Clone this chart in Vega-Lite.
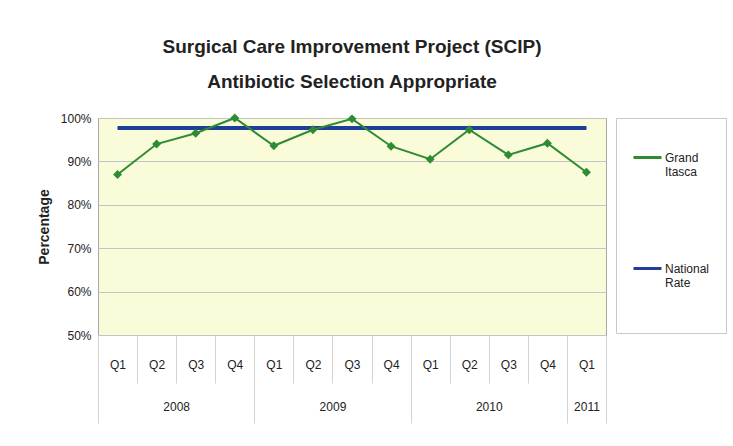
{
  "$schema": "https://vega.github.io/schema/vega-lite/v6.json",
  "width": 508,
  "height": 217,
  "padding": {"left": 37, "top": 38, "right": 5, "bottom": 5},
  "background": "white",
  "title": {
    "text": ["Surgical Care Improvement Project (SCIP)", "Antibiotic Selection Appropriate"],
    "font": "Liberation Sans",
    "fontSize": 19,
    "fontWeight": "bold",
    "color": "#222222",
    "anchor": "middle",
    "lineHeight": 35,
    "offset": 20
  },
  "config": {
    "view": {"fill": "#FAFCD9", "stroke": "#a8a8a8"},
    "axis": {"labelFont": "Liberation Sans", "labelFontSize": 12, "labelColor": "#222222"}
  },
  "datasets": {
    "grand": [
      {"period": "2008 Q1", "series": "Grand Itasca", "value": 0.87},
      {"period": "2008 Q2", "series": "Grand Itasca", "value": 0.94},
      {"period": "2008 Q3", "series": "Grand Itasca", "value": 0.965},
      {"period": "2008 Q4", "series": "Grand Itasca", "value": 1.0},
      {"period": "2009 Q1", "series": "Grand Itasca", "value": 0.936},
      {"period": "2009 Q2", "series": "Grand Itasca", "value": 0.973},
      {"period": "2009 Q3", "series": "Grand Itasca", "value": 0.998},
      {"period": "2009 Q4", "series": "Grand Itasca", "value": 0.935},
      {"period": "2010 Q1", "series": "Grand Itasca", "value": 0.905},
      {"period": "2010 Q2", "series": "Grand Itasca", "value": 0.973},
      {"period": "2010 Q3", "series": "Grand Itasca", "value": 0.915},
      {"period": "2010 Q4", "series": "Grand Itasca", "value": 0.942},
      {"period": "2011 Q1", "series": "Grand Itasca", "value": 0.875}
    ],
    "national": [
      {"period": "2008 Q1", "series": "National Rate", "value": 0.977},
      {"period": "2008 Q2", "series": "National Rate", "value": 0.977},
      {"period": "2008 Q3", "series": "National Rate", "value": 0.977},
      {"period": "2008 Q4", "series": "National Rate", "value": 0.977},
      {"period": "2009 Q1", "series": "National Rate", "value": 0.977},
      {"period": "2009 Q2", "series": "National Rate", "value": 0.977},
      {"period": "2009 Q3", "series": "National Rate", "value": 0.977},
      {"period": "2009 Q4", "series": "National Rate", "value": 0.977},
      {"period": "2010 Q1", "series": "National Rate", "value": 0.977},
      {"period": "2010 Q2", "series": "National Rate", "value": 0.977},
      {"period": "2010 Q3", "series": "National Rate", "value": 0.977},
      {"period": "2010 Q4", "series": "National Rate", "value": 0.977},
      {"period": "2011 Q1", "series": "National Rate", "value": 0.977}
    ]
  },
  "layer": [
    {
      "layer": [
        {
          "data": {"name": "national"},
          "mark": {"type": "line", "strokeWidth": 4},
          "encoding": {
            "x": {"field": "period", "type": "ordinal", "sort": null},
            "y": {"field": "value", "type": "quantitative"},
            "color": {"field": "series", "type": "nominal"}
          }
        },
        {
          "data": {"name": "grand"},
          "mark": {"type": "line", "strokeWidth": 2, "point": {"shape": "diamond", "size": 80, "filled": true, "opacity": 1}},
          "encoding": {
            "x": {
              "field": "period", "type": "ordinal", "sort": null,
              "axis": {
                "orient": "bottom",
                "title": null,
                "labelExpr": "split(datum.value, ' ')[1]",
                "ticks": false,
                "domain": false,
                "labelAngle": 0,
                "labelAlign": "center",
                "labelBaseline": "top",
                "labelPadding": 24
              }
            },
            "y": {
              "field": "value", "type": "quantitative",
              "scale": {"domain": [0.5, 1.0], "nice": false, "zero": false},
              "axis": {
                "title": "Percentage",
                "titleFont": "Liberation Sans",
                "titleFontSize": 14,
                "titleFontWeight": "bold",
                "titleColor": "#222222",
                "titlePadding": 9,
                "values": [0.5, 0.6, 0.7, 0.8, 0.9, 1.0],
                "format": ".0%",
                "ticks": false,
                "domain": false,
                "labelPadding": 7,
                "gridColor": "#c4c4c4",
                "gridWidth": 1
              }
            },
            "color": {
              "field": "series", "type": "nominal",
              "scale": {"domain": ["Grand Itasca", "National Rate"], "range": ["#2E8B34", "#1D3F98"]},
              "legend": {
                "title": " ",
                "titleFontSize": 8,
                "titlePadding": 0,
                "orient": "right",
                "offset": 10,
                "padding": 16,
                "strokeColor": "#c8c8c8",
                "symbolType": "stroke",
                "symbolSize": 784,
                "symbolStrokeWidth": 3,
                "labelExpr": "datum.label == 'National Rate' ? ['National', 'Rate', ' ', ' '] : split(datum.label, ' ')",
                "labelFont": "Liberation Sans",
                "labelFontSize": 12,
                "labelColor": "#222222",
                "labelOffset": 2,
                "labelLimit": 100,
                "rowPadding": 75
              }
            }
          }
        }
      ]
    },
    {
      "mark": {"type": "rule", "opacity": 0},
      "encoding": {
        "x": {
          "datum": 0, "type": "quantitative",
          "scale": {"domain": [0, 13], "nice": false, "zero": false},
          "axis": {
            "orient": "bottom",
            "title": null,
            "domain": false,
            "grid": false,
            "values": [0, 1, 2, 3, 4, 5, 6, 7, 8, 9, 10, 11, 12, 13, 12.5],
            "labelExpr": "datum.value == 2 ? '2008' : datum.value == 6 ? '2009' : datum.value == 10 ? '2010' : datum.value == 12.5 ? '2011' : ''",
            "tickSize": {"condition": {"test": "datum.value == 0 || datum.value == 4 || datum.value == 8 || datum.value == 12 || datum.value == 13", "value": 88}, "value": 48},
            "tickOpacity": {"condition": {"test": "datum.value == 12.5", "value": 0}, "value": 1},
            "tickColor": "#d4d4d4",
            "labelPadding": 18,
            "labelFlush": false,
            "labelOverlap": false,
            "labelBound": false
          }
        }
      }
    }
  ],
  "resolve": {"scale": {"x": "independent"}, "axis": {"x": "independent"}}
}
